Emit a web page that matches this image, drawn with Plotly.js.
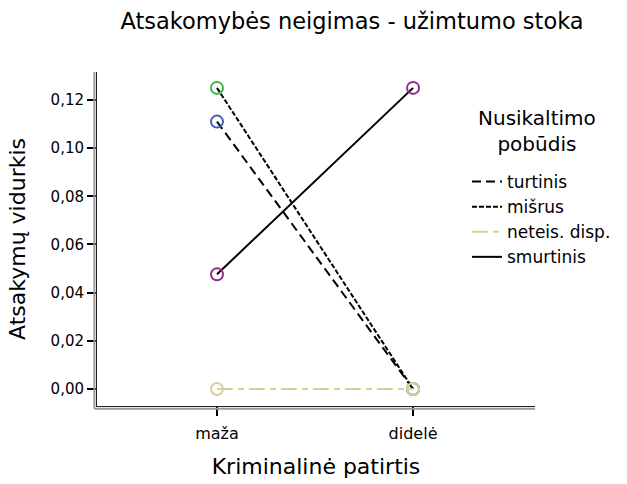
<!DOCTYPE html>
<html>
<head>
<meta charset="utf-8">
<script src="https://cdn.plot.ly/plotly-3.0.1.min.js"></script>
<style>html,body{margin:0;padding:0;background:#fff}#chart{width:627px;height:484px}</style>
</head>
<body>
<div id="chart"></div>
<script>
var categories = ['maža', 'didelė'];
var seriesNames = ['turtinis', 'mišrus', 'neteis. disp.', 'smurtinis'];
var turtinis = [0.111, 0.000];
var misrus = [0.125, 0.000];
var neteisDisp = [0.000, 0.000];
var smurtinis = [0.0476, 0.125];
var yTicks = [0, 0.02, 0.04, 0.06, 0.08, 0.10, 0.12];

var values = [turtinis, misrus, neteisDisp, smurtinis];
var lineColors = ['#000000', '#000000', '#d6d09a', '#000000'];
var markerColors = ['#4060b8', '#3cb64a', '#d6d09a', '#8e2e8e'];
var dashes = ['9px,5px', '5px,2px', '16px,5px,6px,5px', 'solid'];
var xIdx = categories.map(function(c, i){ return i; });

var traces = [];
values.forEach(function(v, k){
  traces.push({
    x: xIdx, y: v, type: 'scatter', mode: 'lines', name: seriesNames[k],
    line: {color: lineColors[k], width: 2, dash: dashes[k]},
    hoverinfo: 'skip', showlegend: true
  });
});
values.forEach(function(v, k){
  traces.push({
    x: xIdx, y: v, type: 'scatter', mode: 'markers', name: seriesNames[k],
    marker: {symbol: 'circle-open', size: 12, color: markerColors[k], line: {width: 2, color: markerColors[k]}},
    hoverinfo: 'skip', showlegend: false
  });
});

var layout = {
  width: 627, height: 484,
  margin: {l: 97, r: 92, t: 72, b: 78, autoexpand: false},
  paper_bgcolor: '#ffffff', plot_bgcolor: '#ffffff',
  font: {family: 'DejaVu Sans, sans-serif', color: '#000'},
  separators: ', ',
  title: {text: 'Atsakomybės neigimas - užimtumo stoka', font: {size: 22.5}, x: 352/627, xref: 'container', xanchor: 'center', y: 1 - 21/484, yref: 'container', yanchor: 'middle'},
  xaxis: {
    range: [-0.612, 1.622], tickvals: xIdx, ticktext: categories,
    showgrid: false, zeroline: false,
    showline: true, linecolor: '#222', linewidth: 1, mirror: false,
    ticks: 'outside', ticklen: 9, tickwidth: 2, tickcolor: '#000',
    tickfont: {size: 16}, ticklabelstandoff: 4,
    title: {text: 'Kriminalinė patirtis', font: {size: 22}, standoff: 16}
  },
  yaxis: {
    range: [-0.00706, 0.1316], tickvals: yTicks, tickformat: '.2f',
    showgrid: false, zeroline: false,
    showline: true, linecolor: '#222', linewidth: 1,
    ticks: 'outside', ticklen: 9, tickwidth: 2, tickcolor: '#000',
    tickfont: {size: 15},
    title: {text: 'Atsakymų vidurkis', font: {size: 22}, standoff: 18}
  },
  shapes: [
    {type: 'line', xref: 'paper', yref: 'paper', x0: -0.006, x1: -0.006, y0: -0.008, y1: 1, line: {color: '#999', width: 2}},
    {type: 'line', xref: 'paper', yref: 'paper', x0: -0.006, x1: 1, y0: -0.008, y1: -0.008, line: {color: '#999', width: 2}}
  ],
  annotations: [
    {text: 'Nusikaltimo<br>pobūdis', xref: 'paper', yref: 'paper', x: (537-97)/438, y: (406-131)/334, xanchor: 'center', yanchor: 'middle', showarrow: false, align: 'center', font: {size: 20}}
  ],
  legend: {
    x: 467/627, xref: 'container', y: 1 - 164/484, yref: 'container', xanchor: 'left', yanchor: 'top',
    font: {size: 17}, bgcolor: 'rgba(0,0,0,0)',
    itemwidth: 30, tracegroupgap: 0
  },
  showlegend: true
};

Plotly.newPlot('chart', traces, layout, {displayModeBar: false, staticPlot: true});
</script>
</body>
</html>
